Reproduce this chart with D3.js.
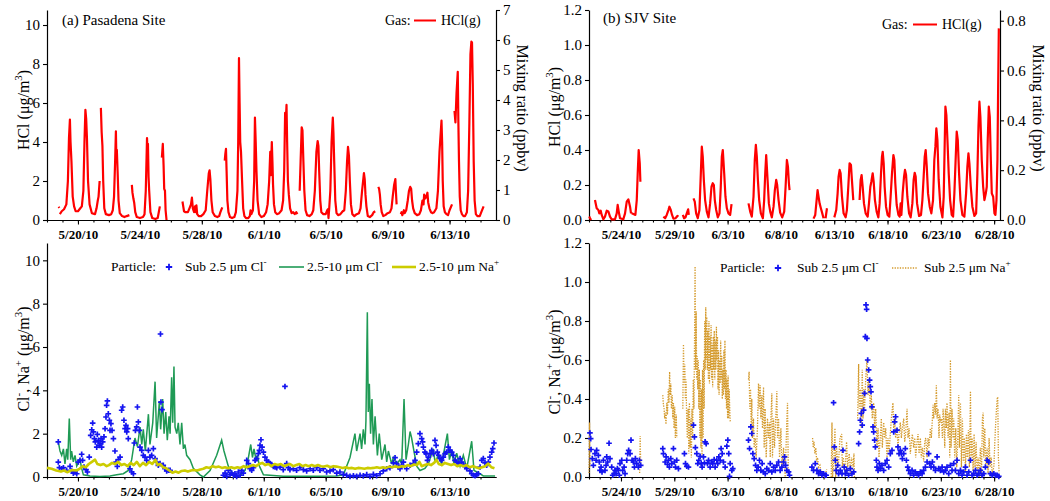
<!DOCTYPE html>
<html><head><meta charset="utf-8">
<script src="https://cdn.jsdelivr.net/npm/d3@7"></script>
<style>body{margin:0;background:#fff}svg{display:block}</style>
</head><body><svg id="c" width="1050" height="501"></svg>
<script>
// ---- time values are "day of May 2010" (June 1 = 32) ----
const ticksPasadena = ["5/20/10","5/24/10","5/28/10","6/1/10","6/5/10","6/9/10","6/13/10"];
const ticksSJV = ["5/24/10","5/29/10","6/3/10","6/8/10","6/13/10","6/18/10","6/23/10","6/28/10"];
const yTicksPasadena = [0,2,4,6,8,10];
const yTicksPasadenaRight = [0,1,2,3,4,5,6,7];
const yTicksSJV = [0,0.2,0.4,0.6,0.8,1.0,1.2];
const yTicksSJVRight = [0,0.2,0.4,0.6,0.8];

const hclPasadena = [
[18.75,0.68],[18.8,0.62],null,
[18.83,0.3],[18.95,0.45],[19.1,0.55],[19.25,0.8],[19.35,2.0],[19.42,4.2],[19.48,5.15],[19.52,4.0],[19.58,3.0],[19.66,1.2],[19.75,0.7],[19.85,0.45],[20.0,0.45],[20.15,0.6],[20.25,0.7],[20.35,1.5],[20.42,4.0],[20.48,5.65],[20.53,5.2],[20.58,4.2],[20.65,2.0],[20.75,0.8],[20.9,0.35],[21.1,0.3],[21.2,0.6],[21.28,1.0],[21.33,1.2],[21.4,2.0],null,
[21.48,5.75],[21.53,4.5],[21.58,3.8],[21.63,2.0],[21.7,0.6],[21.8,0.3],[22.0,0.25],[22.15,0.3],[22.25,0.5],[22.33,1.2],[22.4,3.0],[22.45,4.55],[22.48,3.2],[22.51,3.6],[22.56,2.5],[22.62,1.0],[22.7,0.35],[22.85,0.2],[23.0,0.15],[23.15,0.2],[23.32,0.25],null,
[23.48,1.8],[23.52,1.4],[23.58,1.1],[23.63,0.9],[23.7,0.4],[23.8,0.15],[24.0,0.1],[24.2,0.15],[24.3,0.3],[24.38,1.5],[24.46,4.2],[24.49,3.5],[24.52,3.9],[24.56,2.2],[24.6,1.5],[24.68,0.4],[24.8,0.1],[25.0,0.05],[25.15,0.1],[25.22,0.4],[25.29,0.7],null,
[25.42,3.2],[25.48,3.9],[25.53,2.8],[25.57,1.6],[25.62,1.5],[25.66,0.5],[25.72,0.0],null,
[26.75,0.95],[26.8,0.7],[26.85,0.45],[26.95,0.4],[27.1,0.4],[27.2,0.6],[27.3,0.8],[27.36,1.15],[27.42,0.6],[27.5,0.4],[27.56,0.7],[27.6,0.4],[27.65,0.75],[27.7,0.3],[27.8,0.2],[27.95,0.2],[28.1,0.3],[28.25,0.5],[28.35,1.5],[28.45,2.4],[28.5,2.55],[28.55,2.1],[28.62,1.0],[28.7,0.4],[28.85,0.2],[29.0,0.15],[29.12,0.2],[29.2,0.4],[29.32,0.65],null,
[29.48,3.05],[29.52,3.4],[29.56,3.65],[29.6,2.5],[29.65,1.0],[29.72,0.4],[29.82,0.15],[29.95,0.1],[30.1,0.15],[30.2,0.4],[30.3,1.5],[30.35,4.0],[30.4,8.3],[30.44,6.0],[30.48,4.0],[30.53,3.5],[30.6,2.0],[30.67,0.6],[30.75,0.2],[30.85,0.1],[31.0,0.1],[31.1,0.2],[31.15,0.5],[31.2,0.3],[31.3,0.5],[31.38,2.0],[31.43,5.25],[31.48,4.0],[31.53,2.5],[31.6,1.0],[31.7,0.3],[31.85,0.15],[32.0,0.2],[32.15,0.4],[32.25,0.8],[32.35,2.0],[32.42,3.5],[32.46,2.3],[32.52,4.0],[32.56,3.0],[32.6,1.8],[32.66,0.8],[32.74,0.4],[32.85,0.3],[33.0,0.35],[33.15,0.5],[33.25,1.0],[33.32,2.5],[33.38,5.5],[33.42,5.0],[33.47,5.9],[33.51,4.0],[33.56,2.0],[33.62,1.3],[33.7,0.6],[33.8,0.35],[33.9,0.4],[34.0,0.3],[34.1,0.4],[34.17,0.3],null,
[34.32,1.5],[34.38,3.0],[34.45,4.75],[34.5,4.6],[34.56,3.0],[34.62,1.5],[34.7,0.5],[34.8,0.25],[34.95,0.2],[35.1,0.3],[35.2,0.5],[35.3,1.5],[35.4,3.5],[35.48,4.05],[35.53,3.8],[35.58,2.5],[35.65,1.0],[35.72,0.4],[35.85,0.3],[36.0,0.3],[36.1,0.5],[36.15,0.55],[36.18,0.1],[36.22,0.5],[36.3,1.5],[36.38,4.0],[36.46,5.25],[36.5,4.5],[36.55,3.0],[36.62,1.0],[36.7,0.35],[36.8,0.25],[36.95,0.3],[37.1,0.45],[37.2,0.5],[37.3,1.5],[37.38,3.0],[37.44,3.75],[37.5,3.3],[37.56,2.0],[37.63,0.8],[37.72,0.3],[37.85,0.2],[38.0,0.3],[38.15,0.35],[38.25,0.6],[38.35,1.5],[38.47,2.4],[38.52,2.1],[38.57,1.3],[38.63,0.7],[38.72,0.2],[38.85,0.15],[39.0,0.25],[39.1,0.4],[39.2,0.45],null,
[39.4,1.7],[39.45,1.6],[39.5,1.3],[39.55,0.8],[39.62,0.4],[39.72,0.2],[39.85,0.25],[40.0,0.35],[40.15,0.4],[40.25,0.6],[40.33,1.2],[40.42,1.8],[40.5,2.1],[40.54,1.4],[40.58,0.8],null,
[40.85,0.3],[40.9,0.4],[40.95,0.25],[41.05,0.5],[41.1,0.35],[41.2,0.5],[41.3,1.0],[41.38,1.5],[41.46,1.7],[41.52,1.6],[41.58,1.0],[41.65,0.6],[41.75,0.35],[41.9,0.25],[42.05,0.3],[42.15,0.5],[42.25,1.0],[42.32,0.8],[42.36,1.3],[42.42,1.1],[42.5,1.2],[42.57,1.4],[42.62,0.9],[42.7,0.6],[42.8,0.4],[42.9,0.35],[43.0,0.4],[43.15,0.6],[43.25,1.5],[43.35,3.5],[43.48,5.1],[43.52,4.0],[43.56,2.0],[43.62,0.7],[43.7,0.4],[43.8,0.3],[43.9,0.25],[44.0,0.5],[44.16,0.8],null,
[44.32,5.6],[44.38,5.0],[44.45,6.5],[44.53,7.6],[44.57,5.0],[44.61,3.0],[44.66,1.2],[44.72,0.5],[44.8,0.3],[44.9,0.2],[45.0,0.2],[45.12,0.4],[45.2,1.5],[45.28,5.0],[45.35,8.5],[45.41,9.15],[45.45,9.1],[45.5,7.0],[45.56,3.0],[45.62,1.0],[45.7,0.3],[45.8,0.2],[45.95,0.2],[46.05,0.4],[46.2,0.7]
];

const subClPasadena = [
[18.73,1.62],[18.73,0.69],[18.80,0.43],[18.95,0.38],[19.06,0.43],[19.27,0.31],[19.49,0.49],[19.59,0.28],[19.70,0.18],[19.81,0.23],[19.92,0.15],[20.02,0.69],[20.13,0.77],[20.24,1.05],[20.30,0.77],[20.39,0.46],[20.52,0.34],[20.61,0.23],[20.73,0.92],[20.82,1.92],[20.89,2.18],[20.95,2.49],[20.99,2.08],[21.06,1.77],[21.12,1.62],[21.21,1.38],[21.25,1.97],[21.32,1.69],[21.38,1.46],[21.42,1.54],[21.49,1.77],[21.53,1.38],[21.60,1.62],[21.68,1.85],[21.75,2.23],[21.81,2.77],[21.85,3.31],[21.90,3.51],[21.96,2.92],[22.03,2.62],[22.07,2.15],[22.13,2.46],[22.20,2.15],[22.29,1.77],[22.39,1.20],[22.46,0.69],[22.54,0.49],[22.61,0.80],[22.72,0.92],[22.82,3.08],[22.89,3.23],[22.97,2.62],[23.04,2.23],[23.10,2.38],[23.15,2.08],[23.21,2.23],[23.25,1.77],[23.36,0.38],[23.47,0.23],[23.58,0.15],[23.64,1.57],[23.71,2.15],[23.79,2.31],[23.84,3.23],[23.90,2.54],[23.96,2.15],[24.01,1.38],[24.12,1.23],[24.22,1.00],[24.33,0.92],[24.44,0.77],[24.55,1.23],[24.65,0.92],[24.76,1.00],[24.87,1.31],[24.98,0.85],[25.08,0.69],[25.19,0.54],[25.30,0.62],[25.33,6.6],[25.36,3.46],[25.43,3.11],[25.51,0.54],[25.62,0.38],[25.73,0.28],[25.84,0.31],[25.95,0.31],
[29.39,0.08],[29.50,0.18],[29.61,0.03],[29.71,0.31],[29.82,0.12],[29.93,0.18],[30.04,0.08],[30.14,0.15],[30.25,0.02],[30.36,0.23],[30.47,0.08],[30.58,0.31],[30.68,0.18],[30.90,0.77],[31.01,0.62],[31.11,0.38],[31.22,0.31],[31.33,0.43],[31.44,0.77],[31.54,0.85],[31.65,1.08],[31.72,1.23],[31.76,1.46],[31.82,1.72],[31.89,1.38],[31.98,1.15],[32.08,0.92],[32.19,0.77],[32.30,0.69],[32.41,0.62],[32.51,0.58],[32.62,0.49],[32.73,0.46],[32.84,0.43],
[33.05,0.46],[33.26,0.34],[33.37,4.18],[33.48,0.62],[33.59,0.43],[33.69,0.34],[33.91,0.38],[34.12,0.31],[34.34,0.43],[34.56,0.34],[34.77,0.28],[34.99,0.38],[35.20,0.31],[35.42,0.43],[35.63,0.31],[35.85,0.38],[36.06,0.23],[36.28,0.28],[36.49,0.34],[36.71,0.18],[36.92,0.23],[37.14,0.12],[37.35,0.08],[37.57,0.03],[37.79,0.06],[38.00,0.03],[38.22,0.08],[38.43,0.05],[38.65,0.11],[38.86,0.03],[39.08,0.12],[39.29,0.06],[39.51,0.15],[39.72,0.28],[39.94,0.38],[40.15,0.43],[40.37,0.65],[40.48,0.89],[40.58,0.62],[40.69,0.46],[40.80,0.38],[40.91,0.54],[41.02,0.69],[41.23,0.38],[41.45,0.54],[41.66,0.62],[41.77,0.77],[41.88,1.15],[41.98,1.54],[42.09,2.00],[42.20,1.77],[42.26,1.62],[42.31,1.38],[42.41,1.15],[42.48,1.08],[42.57,0.77],[42.63,0.92],[42.74,1.08],[42.85,1.23],[42.95,1.08],[43.06,1.69],[43.13,1.46],[43.21,1.15],[43.30,1.00],[43.38,0.85],[43.49,0.77],[43.60,0.92],[43.71,1.08],[43.81,1.15],[43.92,1.38],[44.03,1.23],[44.14,1.15],[44.25,1.00],[44.35,0.77],[44.46,0.69],[44.57,0.62],[44.68,0.85],[44.78,0.69],[44.89,0.58],[45.00,0.49],[45.11,0.38],[45.32,0.28],[45.43,0.15],[45.54,0.08],[45.65,0.06],[45.75,0.11],[45.86,0.15],[45.97,0.46],[46.08,0.77],[46.18,0.85],[46.29,0.65],[46.40,0.54],[46.51,0.69],[46.61,0.92],[46.72,1.15],[46.79,1.31],[46.87,1.57]
];

const coarseClPasadena = [
[18.73,1.62],[18.84,1.2],[18.95,1.0],[19.06,1.3],[19.16,0.6],[19.27,1.3],[19.34,0.8],[19.44,2.7],[19.53,0.8],[19.59,1.2],[19.70,0.7],[19.81,1.0],[19.92,0.5],[20.13,0.8],[20.24,0.4],[20.35,0.1],[20.78,0.05],[21.42,0.02],[22.07,0.05],[22.50,0.1],[22.93,0.15],[23.25,0.3],[23.47,0.8],[23.68,1.8],[23.84,1.4],[24.01,2.3],[24.12,1.5],[24.22,2.2],[24.35,1.2],[24.55,2.9],[24.65,1.5],[24.83,2.5],[24.98,4.4],[25.08,1.8],[25.26,3.5],[25.34,2.2],[25.47,3.6],[25.56,2.0],[25.67,3.0],[25.77,1.7],[25.88,2.8],[25.95,2.0],[26.05,4.6],[26.12,2.5],[26.20,5.1],[26.27,2.3],[26.38,2.0],[26.48,2.5],[26.59,1.5],[26.70,2.5],[26.81,1.3],[26.91,1.5],[27.02,1.0],[27.24,0.8],[27.45,0.4],[27.88,0.1],[28.10,0.0],[28.53,0.3],[28.96,1.0],[29.28,1.7],[29.43,1.2],[29.71,0.5],[30.04,0.1],[30.47,0.05],[30.79,0.3],[31.01,0.9],[31.16,1.5],[31.27,0.9],[31.37,1.3],[31.50,0.8],[31.59,1.0],[31.72,0.5],[31.98,0.1],[33.26,0.03],[35.42,0.03],[36.71,0.05],[37.14,0.1],[37.57,0.9],[37.89,2.0],[38.00,1.2],[38.22,2.0],[38.32,1.3],[38.43,2.2],[38.54,1.5],[38.60,2.6],[38.69,7.6],[38.75,3.0],[38.82,4.3],[38.90,2.0],[38.99,3.6],[39.08,1.5],[39.19,2.8],[39.34,1.0],[39.46,2.0],[39.62,0.8],[39.83,1.5],[39.94,0.7],[40.05,1.2],[40.26,0.6],[40.37,0.9],[40.58,0.6],[40.80,0.8],[40.91,0.6],[41.06,3.6],[41.19,0.8],[41.34,1.5],[41.45,2.1],[41.55,1.8],[41.70,1.2],[41.88,0.5],[42.09,0.3],[42.41,0.4],[42.63,0.6],[42.95,1.3],[43.06,0.7],[43.28,1.0],[43.49,0.6],[43.86,2.0],[43.99,0.8],[44.14,1.2],[44.29,0.6],[44.46,1.1],[44.68,0.5],[44.89,1.0],[45.11,0.4],[45.43,1.65],[45.58,0.3],[45.86,0.2],[46.18,0.05],[46.94,0.05]
];

const coarseNaPasadena = [
[18.0,0.42],[18.3,0.38],[18.6,0.3],[18.9,0.25],[19.1,0.3],[19.3,0.22],[19.6,0.32],[19.9,0.3],[20.1,0.38],[20.3,0.5],[20.5,0.45],[20.7,0.6],[20.9,0.7],[21.1,0.8],[21.25,0.6],[21.45,0.55],[21.65,0.6],[21.85,0.5],[22.0,0.55],[22.2,0.65],[22.4,0.6],[22.6,0.7],[22.8,0.55],[23.0,0.6],[23.2,0.5],[23.4,0.65],[23.6,0.55],[23.8,0.7],[24.0,0.5],[24.2,0.65],[24.4,0.55],[24.6,0.7],[24.8,0.6],[25.0,0.8],[25.15,0.55],[25.3,0.6],[25.5,0.45],[25.7,0.4],[25.9,0.3],[26.1,0.2],[26.3,0.25],[26.5,0.2],[26.7,0.28],[26.9,0.3],[27.1,0.25],[27.3,0.3],[27.5,0.32],[27.7,0.3],[27.9,0.35],[28.1,0.38],[28.3,0.45],[28.5,0.42],[28.7,0.5],[28.9,0.45],[29.1,0.48],[29.3,0.42],[29.5,0.45],[29.7,0.4],[29.9,0.45],[30.1,0.4],[30.3,0.45],[30.5,0.42],[30.7,0.5],[30.9,0.45],[31.1,0.5],[31.3,0.55],[31.5,0.5],[31.7,0.6],[31.9,0.65],[32.1,0.55],[32.3,0.6],[32.5,0.5],[32.7,0.6],[32.9,0.55],[33.1,0.6],[33.3,0.5],[33.5,0.55],[33.7,0.6],[33.9,0.5],[34.1,0.55],[34.3,0.6],[34.5,0.5],[34.7,0.55],[34.9,0.5],[35.1,0.55],[35.3,0.5],[35.5,0.55],[35.7,0.5],[35.9,0.48],[36.1,0.52],[36.3,0.45],[36.5,0.5],[36.7,0.48],[36.9,0.45],[37.1,0.42],[37.3,0.45],[37.5,0.4],[37.7,0.42],[37.9,0.38],[38.1,0.42],[38.3,0.4],[38.5,0.38],[38.7,0.42],[38.9,0.4],[39.1,0.42],[39.3,0.45],[39.5,0.42],[39.7,0.45],[39.9,0.42],[40.1,0.48],[40.3,0.45],[40.5,0.5],[40.7,0.45],[40.9,0.5],[41.1,0.48],[41.3,0.55],[41.5,0.5],[41.7,0.58],[41.9,0.55],[42.05,0.7],[42.2,0.5],[42.4,0.55],[42.6,0.6],[42.8,0.55],[43.0,0.65],[43.15,0.8],[43.3,0.6],[43.5,0.55],[43.7,0.65],[43.9,0.6],[44.1,0.55],[44.3,0.6],[44.5,0.5],[44.7,0.55],[44.9,0.5],[45.1,0.55],[45.3,0.45],[45.5,0.5],[45.7,0.45],[45.9,0.4],[46.1,0.45],[46.3,0.5],[46.5,0.62],[46.7,0.45],[46.9,0.4]
];

const hclSJV = [
[21.02,0.02],[21.1,0.01],[21.2,0.0],null,
[21.56,0.114],[21.72,0.067],[21.88,0.057],[21.97,0.038],[22.10,0.053],[22.19,0.029],[22.35,0.004],[22.50,0.019],[22.66,0.053],[22.82,0.048],[22.97,0.019],[23.13,0.004],[23.44,0.004],[23.60,0.038],[23.69,0.086],[23.79,0.048],[23.91,0.01],[24.22,0.004],[24.38,0.038],[24.54,0.105],[24.69,0.118],[24.85,0.076],[24.94,0.038],null,
[25.0,0.038],[25.16,0.034],[25.35,0.029],[25.48,0.114],[25.57,0.267],[25.66,0.40],[25.76,0.324],[25.82,0.219],null,
[27.98,0.019],[28.14,0.01],[28.29,0.029],[28.45,0.057],[28.54,0.076],[28.67,0.057],[28.79,0.029],[28.92,0.008],[29.11,0.01],[29.29,0.023],[29.39,0.019],null,
[29.80,0.029],[29.92,0.01],[30.05,0.015],[30.17,0.038],[30.30,0.061],[30.36,0.029],null,
[30.80,0.124],[30.92,0.105],[31.05,0.038],[31.20,0.01],[31.36,0.057],[31.49,0.267],[31.58,0.419],[31.67,0.362],[31.77,0.229],[31.89,0.114],[32.05,0.048],[32.21,0.015],[32.36,0.095],[32.49,0.19],[32.61,0.21],[32.71,0.2],[32.80,0.114],[32.93,0.057],[33.08,0.015],[33.24,0.038],[33.36,0.19],[33.46,0.362],[33.55,0.40],[33.68,0.267],[33.80,0.133],[33.93,0.067],[34.08,0.038],[34.24,0.029],[34.37,0.091],null,
[35.96,0.095],[36.12,0.048],[36.27,0.019],[36.43,0.133],[36.55,0.343],[36.65,0.429],[36.74,0.362],[36.84,0.229],[36.96,0.114],[37.12,0.038],[37.31,0.01],[37.43,0.114],[37.53,0.267],[37.62,0.371],[37.75,0.229],[37.87,0.095],[38.00,0.048],[38.15,0.015],[38.31,0.076],[38.43,0.171],[38.56,0.229],[38.65,0.2],[38.78,0.114],[38.93,0.042],[39.12,0.015],[39.31,0.048],[39.44,0.19],[39.56,0.343],[39.66,0.305],[39.75,0.21],[39.81,0.171],null,
[42.06,0.008],[42.22,0.029],[42.35,0.114],[42.44,0.171],[42.53,0.133],[42.63,0.095],[42.75,0.067],[42.88,0.038],[43.00,0.01],null,
[43.19,0.01],[43.32,0.067],null,
[44.01,0.015],[44.19,0.057],[44.32,0.152],[44.41,0.248],[44.51,0.286],[44.60,0.267],[44.73,0.133],[44.88,0.038],[45.07,0.015],[45.19,0.057],[45.32,0.19],[45.44,0.324],[45.57,0.314],[45.66,0.229],[45.79,0.114],null,
[46.38,0.114],[46.48,0.229],[46.57,0.257],[46.67,0.19],[46.79,0.095],[46.95,0.038],[47.14,0.019],[47.26,0.095],[47.39,0.19],[47.48,0.219],[47.61,0.267],[47.70,0.219],[47.82,0.114],[47.98,0.048],[48.14,0.015],[48.26,0.095],[48.39,0.267],[48.48,0.362],[48.55,0.39],[48.64,0.324],[48.73,0.19],[48.86,0.076],[49.01,0.029],[49.17,0.019],[49.29,0.133],[49.42,0.267],[49.55,0.371],[49.64,0.343],[49.73,0.21],[49.86,0.086],[50.02,0.029],[50.14,0.019],[50.23,0.095],[50.30,0.029],[50.42,0.152],[50.55,0.248],[50.64,0.286],[50.74,0.257],[50.86,0.133],[51.02,0.038],[51.17,0.015],[51.33,0.095],[51.45,0.229],[51.55,0.27],[51.64,0.248],[51.77,0.095],[51.96,0.023],[52.14,0.029],[52.27,0.114],[52.39,0.248],[52.49,0.362],[52.58,0.40],[52.68,0.305],[52.80,0.152],[52.96,0.076],[53.11,0.038],[53.27,0.114],[53.39,0.343],[53.49,0.419],[53.58,0.524],[53.68,0.457],[53.80,0.229],[53.96,0.076],[54.15,0.015],[54.27,0.133],[54.37,0.457],[54.43,0.648],[54.52,0.60],[54.62,0.457],[54.74,0.267],[54.87,0.114],[55.02,0.029],[55.15,0.019],[55.27,0.152],[55.40,0.362],[55.49,0.505],[55.59,0.457],[55.71,0.267],[55.84,0.114],[56.02,0.029],[56.21,0.019],[56.37,0.152],[56.49,0.305],[56.59,0.381],[56.68,0.324],[56.81,0.19],[56.96,0.076],[57.15,0.023],[57.31,0.038],[57.43,0.267],[57.53,0.533],[57.62,0.676],[57.71,0.59],[57.84,0.343],[57.97,0.19],[58.09,0.114],[58.22,0.152],[58.31,0.19],[58.40,0.457],[58.50,0.648],[58.59,0.59],[58.69,0.343],[58.78,0.152],[58.91,0.133],[59.03,0.038],[59.12,0.029],[59.22,0.114],[59.31,0.343],[59.37,0.724],[59.44,1.095]
];

const subClSJV = [
[21.09,0.226],[21.16,0.197],[21.19,0.141],[21.31,0.094],[21.41,0.060],[21.56,0.120],[21.66,0.086],[21.72,0.137],[21.88,0.111],[21.97,0.077],[22.03,0.034],[22.13,0.051],[22.22,0.026],[22.35,0.086],[22.50,0.034],[22.60,0.060],[22.66,0.103],[22.75,0.077],[22.88,0.173],[22.97,0.094],[23.13,0.051],[23.22,0.009],[23.35,0.017],[23.44,0.034],[23.54,0.017],[23.66,0.043],[23.75,0.034],[23.85,0.009],[23.91,0.069],[24.07,0.086],[24.16,0.034],[24.29,0.051],[24.38,0.017],[24.54,0.086],[24.63,0.120],[24.72,0.137],[24.85,0.120],[24.94,0.189],[25.04,0.086],[25.16,0.077],[25.26,0.051],[25.35,0.094],[25.48,0.069],[25.63,0.051],[25.73,0.086],[25.85,0.060],
[27.92,0.146],[27.98,0.120],[28.14,0.077],[28.23,0.103],[28.36,0.065],[28.45,0.086],[28.54,0.051],[28.67,0.094],[28.76,0.069],[28.92,0.146],[29.01,0.077],[29.11,0.051],[29.23,0.086],[29.39,0.043],[29.95,0.120],[30.05,0.069],[30.17,0.055],[30.33,0.051],[30.80,0.266],[30.89,0.206],[30.98,0.151],[31.11,0.120],[31.20,0.069],[31.30,0.086],[31.42,0.106],[31.52,0.069],[31.61,0.051],[31.74,0.103],[31.83,0.072],[31.89,0.180],[31.99,0.171],[32.11,0.069],[32.21,0.086],[32.36,0.051],[32.52,0.077],[32.61,0.069],[32.74,0.089],[32.83,0.051],[32.99,0.086],[33.08,0.069],[33.18,0.103],[33.30,0.086],[33.39,0.146],[33.49,0.120],[33.61,0.077],[33.77,0.051],[33.93,0.158],[34.02,0.189],[34.11,0.120],[34.18,0.003],[34.24,0.069],[34.40,0.034],[34.49,0.043],
[35.96,0.189],[36.06,0.146],[36.18,0.257],[36.27,0.223],[36.37,0.120],[36.49,0.094],[36.62,0.060],[36.74,0.034],[36.87,0.051],[36.99,0.086],[37.12,0.034],[37.24,0.069],[37.37,0.026],[37.53,0.017],[37.68,0.043],[37.84,0.034],[38.00,0.069],[38.15,0.026],[38.31,0.051],[38.47,0.034],[38.62,0.060],[38.78,0.077],[38.93,0.034],[39.09,0.051],[39.25,0.077],[39.34,0.103],[39.44,0.060],[39.56,0.034],[39.72,0.026],[39.81,0.009],
[41.91,0.051],[42.06,0.034],[42.22,0.069],[42.38,0.034],[42.53,0.017],[42.69,0.026],[42.85,0.009],[43.00,0.017],[43.16,0.009],[43.25,0.009],[43.94,0.381],[44.01,0.154],[44.10,0.086],[44.19,0.034],[44.32,0.060],[44.41,0.017],[44.57,0.034],[44.73,0.017],[44.82,0.137],[44.94,0.051],[45.04,0.017],[45.19,0.034],[45.35,0.009],[45.51,0.043],[45.66,0.017],[45.82,0.026],
[46.29,0.171],[46.38,0.231],[46.45,0.291],[46.54,0.326],[46.63,0.266],[46.76,0.343],[46.85,0.429],[46.92,0.720],[46.98,0.883],[47.04,0.860],[47.07,0.711],[47.14,0.600],[47.23,0.549],[47.32,0.497],[47.39,0.463],[47.45,0.437],[47.54,0.360],[47.64,0.257],[47.70,0.231],[47.79,0.189],[47.86,0.154],[47.95,0.086],[48.01,0.051],[48.11,0.034],[48.23,0.069],[48.32,0.043],[48.48,0.060],[48.64,0.034],[48.79,0.069],[48.95,0.086],[49.11,0.051],[49.26,0.120],[49.42,0.137],[49.58,0.231],[49.67,0.283],[49.76,0.309],[49.89,0.240],[49.98,0.154],[50.08,0.120],[50.20,0.137],[50.30,0.120],[50.39,0.094],[50.52,0.120],[50.67,0.146],[50.77,0.086],[50.89,0.051],[50.99,0.034],[51.14,0.017],[51.30,0.034],[51.45,0.009],[51.61,0.026],[51.77,0.017],[51.92,0.009],[52.08,0.026],[52.24,0.017],[52.39,0.034],[52.55,0.051],[52.71,0.077],[52.86,0.120],[52.96,0.069],[53.08,0.051],[53.21,0.077],[53.33,0.051],[53.49,0.034],[53.65,0.103],[53.80,0.043],[53.96,0.034],[54.12,0.051],[54.27,0.026],[54.43,0.034],[54.58,0.051],[54.74,0.017],[54.90,0.060],[55.05,0.034],[55.21,0.069],[55.37,0.034],[55.52,0.086],[55.68,0.017],[55.84,0.034],[55.99,0.009],[56.15,0.026],[56.31,0.051],[56.46,0.009],[56.62,0.026],[56.78,0.086],[56.93,0.009],[57.09,0.017],[57.25,0.034],[57.40,0.009],[57.56,0.017],[57.71,0.034],[57.87,0.009],[58.03,0.017],[58.18,0.051],[58.34,0.086],[58.50,0.077],[58.65,0.017],[58.81,0.009],[58.97,0.017],[59.12,0.009],[59.28,0.009],[59.44,0.003]
];

const subNaSJV = [
[21.0,0.02],[21.05,0.28],[21.1,0.05],null,
[25.75,0.02],[25.8,0.21],[25.85,0.05],null,
[27.92,0.42],[27.98,0.37],[28.04,0.35],[28.1,0.3],[28.16,0.33],[28.22,0.27],[28.3,0.38],[28.36,0.32],[28.44,0.45],[28.5,0.38],[28.56,0.54],[28.62,0.42],[28.67,0.48],[28.73,0.35],[28.8,0.42],[28.86,0.3],[28.92,0.38],[28.98,0.25],[29.04,0.36],[29.1,0.2],[29.18,0.32],[29.24,0.2],null,
[29.8,0.35],[29.86,0.68],[29.92,0.48],[29.98,0.58],[30.04,0.4],[30.1,0.5],[30.16,0.3],[30.22,0.2],[30.3,0.35],[30.36,0.12],[30.42,0.38],[30.48,0.15],[30.54,0.3],[30.6,0.1],[30.66,0.35],[30.72,0.2],[30.78,0.5],[30.84,0.35],[30.9,0.7],[30.95,1.08],[31.0,0.55],[31.05,0.85],[31.1,0.5],[31.15,0.62],[31.2,0.45],[31.25,0.6],[31.3,0.35],[31.35,0.55],[31.4,0.2],[31.45,0.5],[31.5,0.15],[31.55,0.45],[31.6,0.1],[31.65,0.55],[31.7,0.2],[31.75,0.6],[31.8,0.35],[31.85,0.8],[31.9,0.55],[31.95,0.87],[32.0,0.6],[32.05,0.82],[32.1,0.55],[32.15,0.75],[32.2,0.5],[32.25,0.8],[32.3,0.48],[32.35,0.72],[32.4,0.55],[32.45,0.78],[32.5,0.5],[32.55,0.68],[32.6,0.46],[32.65,0.72],[32.7,0.55],[32.75,0.75],[32.8,0.5],[32.85,0.7],[32.9,0.55],[32.95,0.77],[33.0,0.6],[33.05,0.72],[33.1,0.45],[33.15,0.65],[33.2,0.42],[33.25,0.6],[33.3,0.48],[33.35,0.7],[33.4,0.5],[33.45,0.62],[33.5,0.4],[33.55,0.55],[33.6,0.42],[33.65,0.65],[33.7,0.45],[33.75,0.7],[33.8,0.4],[33.85,0.55],[33.9,0.35],[33.95,0.5],[34.0,0.3],[34.05,0.52],[34.1,0.3],[34.15,0.45],[34.2,0.35],[34.25,0.28],null,
[35.96,0.5],[36.02,0.54],[36.08,0.35],[36.15,0.45],[36.21,0.25],[36.27,0.4],[36.33,0.2],[36.43,0.3],[36.49,0.15],[36.58,0.2],[36.68,0.1],[36.8,0.25],[36.9,0.48],[36.96,0.35],[37.05,0.47],[37.12,0.3],[37.21,0.42],[37.27,0.25],[37.37,0.46],[37.43,0.15],[37.52,0.35],[37.62,0.1],[37.74,0.3],[37.84,0.2],[37.93,0.28],[38.0,0.1],[38.06,0.3],[38.15,0.43],[38.21,0.1],[38.31,0.3],[38.4,0.15],[38.5,0.28],[38.62,0.44],[38.68,0.2],[38.78,0.3],[38.87,0.1],[39.0,0.25],[39.09,0.05],[39.25,0.15],[39.4,0.0],[39.56,0.3],[39.62,0.38],[39.69,0.05],[39.81,0.0],null,
[41.97,0.2],[42.03,0.15],[42.1,0.18],[42.19,0.12],[42.28,0.15],[42.35,0.08],[42.44,0.1],[42.53,0.05],[42.66,0.06],[42.82,0.0],[42.97,0.02],[43.13,0.0],[43.29,0.04],null,
[43.72,0.0],[43.79,0.28],[43.85,0.0],[43.97,0.1],[44.07,0.25],[44.13,0.0],[44.22,0.15],[44.38,0.05],[44.54,0.2],[44.7,0.22],[44.76,0.05],[44.85,0.1],[45.01,0.02],[45.16,0.18],[45.26,0.05],[45.41,0.12],[45.54,0.02],[45.63,0.1],[45.79,0.05],[45.85,0.12],[45.9,0.0],null,
[46.20,0.3],[46.29,0.58],[46.35,0.35],[46.45,0.45],[46.54,0.25],[46.63,0.55],[46.70,0.3],[46.76,0.45],[46.85,0.35],[46.95,0.5],[47.07,0.6],[47.17,0.42],[47.26,0.5],[47.39,0.35],[47.48,0.42],[47.57,0.3],[47.70,0.38],[47.79,0.25],[47.89,0.35],[48.01,0.15],[48.11,0.25],[48.20,0.1],[48.32,0.2],[48.42,0.3],[48.51,0.15],[48.64,0.28],[48.73,0.2],[48.83,0.25],[48.95,0.1],[49.04,0.2],[49.14,0.12],[49.26,0.22],[49.36,0.3],[49.45,0.35],[49.51,0.38],[49.58,0.25],[49.67,0.3],[49.76,0.2],[49.89,0.25],[49.98,0.15],[50.08,0.22],[50.20,0.28],[50.30,0.2],[50.39,0.25],[50.52,0.3],[50.61,0.18],[50.70,0.22],[50.83,0.35],[50.92,0.2],[51.02,0.25],[51.14,0.12],[51.24,0.18],[51.33,0.22],[51.45,0.15],[51.55,0.2],[51.64,0.1],[51.77,0.18],[51.86,0.22],[51.96,0.12],[52.08,0.2],[52.17,0.1],[52.27,0.15],[52.39,0.08],[52.49,0.18],[52.58,0.2],[52.71,0.1],[52.80,0.2],[52.89,0.15],[53.02,0.25],[53.11,0.2],[53.21,0.3],[53.27,0.37],[53.33,0.3],[53.43,0.38],[53.52,0.32],[53.58,0.47],[53.65,0.3],[53.74,0.35],[53.83,0.2],[53.90,0.32],[53.96,0.28],[54.05,0.3],[54.15,0.2],[54.21,0.35],[54.27,0.3],[54.37,0.15],[54.43,0.35],[54.52,0.25],[54.58,0.38],[54.68,0.2],[54.77,0.33],[54.84,0.1],[54.90,0.6],[54.96,0.15],[55.05,0.35],[55.15,0.2],[55.21,0.3],[55.30,0.1],[55.40,0.25],[55.49,0.05],[55.59,0.2],[55.68,0.42],[55.74,0.15],[55.84,0.38],[55.93,0.05],[56.02,0.3],[56.12,0.08],[56.21,0.2],[56.31,0.03],[56.40,0.22],[56.49,0.1],[56.59,0.24],[56.68,0.05],[56.78,0.44],[56.84,0.1],[56.93,0.2],[57.03,0.03],[57.12,0.22],[57.21,0.05],[57.31,0.18],[57.40,0.0],[57.50,0.1],[57.59,0.0],[57.71,0.15],[57.81,0.0],[57.90,0.3],[57.97,0.33],[58.03,0.1],[58.12,0.25],[58.22,0.05],[58.34,0.15],[58.43,0.02],[58.53,0.2],[58.62,0.05],[58.72,0.1],[58.81,0.02],[58.97,0.05],[59.12,0.25],[59.22,0.35],[59.28,0.4],[59.34,0.41],[59.40,0.1],[59.47,0.02]
];

// ---------------- drawing ----------------
const FONT = '"Liberation Serif","Times New Roman",Times,serif';
const RED = "#ff0000", BLUE = "#1414f0", GREEN = "#1f9a55", YELLOW = "#cccc00", ORANGE = "#d49a2c";
const svg = d3.select("#c").attr("font-family", FONT);
svg.append("rect").attr("width",1050).attr("height",501).attr("fill","#fff");
const parseTick = d3.timeParse("%m/%d/%y");
const BASE = new Date(2010, 4, 1).getTime();
const toDate = t => new Date(BASE + (t - 1) * 864e5);

function rich(sel, parts, fs) {
  let up = false;
  const sh = fs * 0.42;
  parts.forEach(([s, sup]) => {
    const t = sel.append("tspan").text(s);
    if (sup) { t.attr("font-size", fs * 0.68); if (!up) { t.attr("dy", -sh); up = true; } }
    else if (up) { t.attr("dy", sh); up = false; }
  });
  return sel;
}

function styleAxis(g, fs, bold) {
  g.attr("font-family", FONT);
  g.select(".domain").attr("stroke", "#000").attr("stroke-width", 1.2);
  g.selectAll(".tick line").attr("stroke", "#000").attr("stroke-width", 1.1);
  g.selectAll(".tick text").attr("font-size", fs).attr("fill", "#000").attr("font-weight", bold ? "bold" : "normal");
}

function makePanel(o) {
  const x = d3.scaleTime().domain([toDate(o.t0), toDate(o.t1)]).range([o.x0, o.x1]);
  const y = d3.scaleLinear().domain([0, o.yMax]).range([o.yB, o.yT]);
  const g = svg.append("g");
  const minors = d3.timeDay.range(d3.timeDay.ceil(x.domain()[0]), x.domain()[1]);
  g.append("g").attr("transform", `translate(0,${o.yB})`)
    .call(d3.axisBottom(x).tickValues(minors).tickSize(2.5).tickSizeOuter(0).tickFormat(""))
    .call(a => styleAxis(a, 13, true));
  const majors = o.ticks.map(parseTick);
  g.append("g").attr("transform", `translate(0,${o.yB})`)
    .call(d3.axisBottom(x).tickValues(majors).tickSize(4.5).tickSizeOuter(0).tickPadding(5.5).tickFormat((d, i) => o.ticks[i]))
    .call(a => styleAxis(a, 13, true));
  g.append("g").attr("transform", `translate(${o.x0},0)`)
    .call(d3.axisLeft(y).tickValues(o.yTicks).tickSize(4).tickSizeOuter(0).tickPadding(3).tickFormat(d3.format(o.fmt)))
    .call(a => styleAxis(a, 15, false));
  if (o.yMaxR) {
    const yR = d3.scaleLinear().domain([0, o.yMaxR]).range([o.yB, o.yT]);
    g.append("g").attr("transform", `translate(${o.x1},0)`)
      .call(d3.axisRight(yR).tickValues(o.yTicksR).tickSize(4).tickSizeOuter(0).tickPadding(3).tickFormat(d3.format(o.fmt)))
      .call(a => styleAxis(a, 15, false));
  }
  const line = d3.line().defined(d => d !== null).x(d => x(toDate(d[0]))).y(d => y(d[1]));
  return { x, y, g, line };
}

function crosses(p, data, color, r) {
  p.g.append("g").selectAll("path").data(data).join("path")
    .attr("transform", d => `translate(${p.x(toDate(d[0]))},${p.y(d[1])})`)
    .attr("d", `M${-r},0H${r}M0,${-r}V${r}`)
    .attr("stroke", color).attr("stroke-width", 1.7).attr("fill", "none");
}

// ---- Panel (a) top ----
const aTop = makePanel({t0:18, t1:47, x0:47, x1:496, yB:220, yT:10, yMax:10.77, yTicks:yTicksPasadena, yMaxR:7, yTicksR:yTicksPasadenaRight, ticks:ticksPasadena, fmt:"d"});
aTop.g.append("path").datum(hclPasadena).attr("d", aTop.line).attr("fill","none").attr("stroke",RED).attr("stroke-width",2.2).attr("stroke-linejoin","round");

// ---- Panel (a) bottom ----
const aBot = makePanel({t0:18, t1:47, x0:47, x1:496, yB:477, yT:243, yMax:10.8, yTicks:yTicksPasadena, ticks:ticksPasadena, fmt:"d"});
aBot.g.append("path").datum(coarseClPasadena).attr("d", aBot.line).attr("fill","none").attr("stroke",GREEN).attr("stroke-width",1.5);
crosses(aBot, subClPasadena, BLUE, 2.8);
aBot.g.append("path").datum(coarseNaPasadena).attr("d", aBot.line).attr("fill","none").attr("stroke",YELLOW).attr("stroke-width",2.6).attr("stroke-linejoin","round");

// ---- Panel (b) top ----
const bTop = makePanel({t0:21, t1:59.55, x0:589, x1:1000, yB:220, yT:10, yMax:1.2, yTicks:yTicksSJV, yMaxR:0.843, yTicksR:yTicksSJVRight, ticks:ticksSJV, fmt:".1f"});
bTop.g.append("path").datum(hclSJV).attr("d", bTop.line).attr("fill","none").attr("stroke",RED).attr("stroke-width",2.2).attr("stroke-linejoin","round");

// ---- Panel (b) bottom ----
const bBot = makePanel({t0:21, t1:59.55, x0:589, x1:1000, yB:477, yT:243, yMax:1.2, yTicks:yTicksSJV, ticks:ticksSJV, fmt:".1f"});
bBot.g.append("path").datum(subNaSJV).attr("d", bBot.line).attr("fill","none").attr("stroke",ORANGE).attr("stroke-width",1.3).attr("stroke-dasharray","1.3,1.3");
crosses(bBot, subClSJV, BLUE, 2.8);

// ---- texts ----
function txt(x, y, s, fs, anchor) {
  return svg.append("text").attr("x", x).attr("y", y).attr("font-size", fs).attr("text-anchor", anchor || "start").attr("fill", "#000").text(s);
}
txt(62, 25, "(a) Pasadena Site", 15);
txt(603, 23, "(b) SJV Site", 15);

function vtitle(x, y, rot, parts, fs) {
  const t = svg.append("text").attr("transform", `translate(${x},${y}) rotate(${rot})`).attr("font-size", fs).attr("text-anchor", "middle").attr("fill", "#000");
  rich(t, parts, fs);
}
vtitle(29, 110, -90, [["HCl (μg/m"],["3",1],[")"]], 16);
vtitle(517, 108, 90, [["Mixing ratio (ppbv)"]], 16);
vtitle(560, 107, -90, [["HCl (μg/m"],["3",1],[")"]], 16);
vtitle(1033, 108, 90, [["Mixing ratio (ppbv)"]], 16);
vtitle(29, 359, -90, [["Cl"],["-",1],[", Na"],["+",1],[" (μg/m"],["3",1],[")"]], 16);
vtitle(560, 362, -90, [["Cl"],["-",1],[", Na"],["+",1],[" (μg/m"],["3",1],[")"]], 16);

function hline(x1, x2, y, color, w, dash) {
  const l = svg.append("line").attr("x1", x1).attr("x2", x2).attr("y1", y).attr("y2", y).attr("stroke", color).attr("stroke-width", w);
  if (dash) l.attr("stroke-dasharray", dash);
}
txt(385, 25, "Gas:", 14);
hline(414, 436, 20.5, RED, 2);
txt(441, 25, "HCl(g)", 14);
txt(882, 29, "Gas:", 14);
hline(913, 937, 24.5, RED, 2);
txt(942, 29, "HCl(g)", 14);

function cross(cx, cy) {
  svg.append("path").attr("d", `M${cx-3.2},${cy}H${cx+3.2}M${cx},${cy-3.2}V${cy+3.2}`).attr("stroke", BLUE).attr("stroke-width", 1.8);
}
const LF = 13.5;
txt(111, 271, "Particle:", LF);
cross(169, 267);
rich(txt(185, 271, "", LF), [["Sub 2.5 μm Cl"],["-",1]], LF);
hline(279, 304, 267, GREEN, 1.6);
rich(txt(307, 271, "", LF), [["2.5-10 μm Cl"],["-",1]], LF);
hline(392, 416, 267, YELLOW, 2.6);
rich(txt(419, 271, "", LF), [["2.5-10 μm Na"],["+",1]], LF);

txt(720, 272, "Particle:", LF);
cross(778, 268);
rich(txt(797, 272, "", LF), [["Sub 2.5 μm Cl"],["-",1]], LF);
hline(892, 917, 268, ORANGE, 1.3, "1.3,1.3");
rich(txt(924, 272, "", LF), [["Sub 2.5 μm Na"],["+",1]], LF);
</script>
</body></html>
